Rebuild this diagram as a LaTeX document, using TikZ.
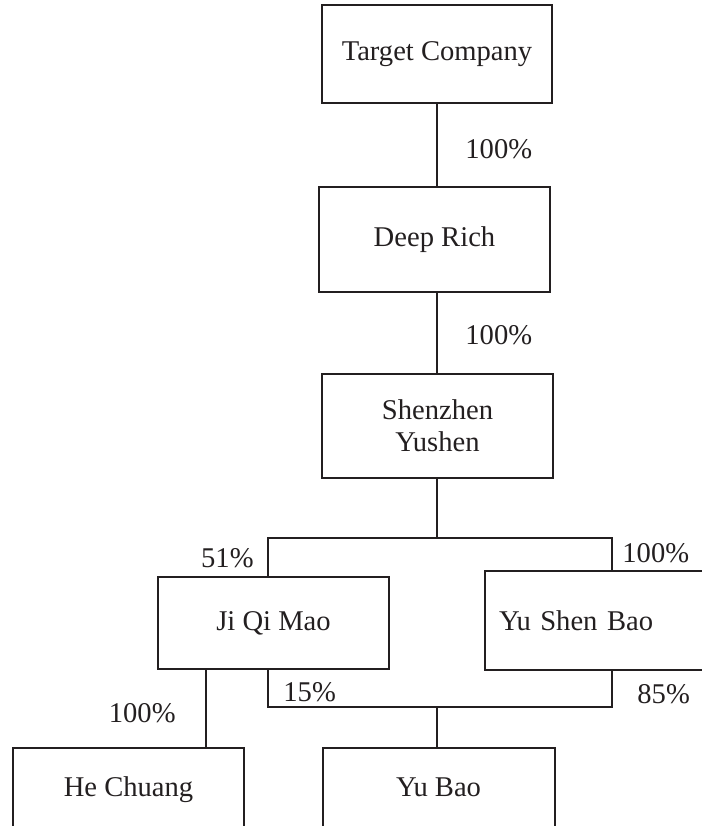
\documentclass[tikz,border=0pt]{standalone}
\usepackage{fontspec}
\setmainfont{Liberation Serif}
\definecolor{ink}{HTML}{231F20}
\begin{document}
\begin{tikzpicture}[x=0.5pt,y=-0.5pt,
  box/.style={draw=ink, line width=1pt, text=ink, font=\fontsize{14.3}{16}\selectfont,
    align=center, inner sep=0pt},
  pct/.style={text=ink, font=\fontsize{14.3}{16}\selectfont, inner sep=0pt},
  conn/.style={draw=ink, line width=1pt}]
\useasboundingbox (0,0) rectangle (702,826);
\begin{scope}
\clip (0,0) rectangle (702,826);
\node[box, minimum width=115pt, minimum height=49pt] (tc) at (437,54) {Target Company};
\node[box, minimum width=115.5pt, minimum height=52.5pt] (dr) at (434.5,239.5) {Deep Rich};
\node[box, minimum width=115.5pt, minimum height=52pt, font=\fontsize{14.3}{16}\selectfont] (sy) at (437.5,426) {Shenzhen\\ Yushen};
\node[box, minimum width=115.5pt, minimum height=46pt] (jqm) at (273.5,623) {Ji Qi Mao};
\node[box, anchor=north west, minimum height=49.5pt, text width=150pt, align=left, inner xsep=7pt] (ysb) at (484,570) {Yu Shen Bao};
\node[box, anchor=north, minimum width=115.5pt, text height=24pt, text depth=30pt] (hc) at (128.5,747) {He Chuang};
\node[box, anchor=north, minimum width=116pt, text height=24pt, text depth=30pt] (yb) at (438.5,747) {Yu Bao};
\end{scope}
\coordinate (mx) at (437,0);
\coordinate (j1) at (437,538);
\coordinate (jl) at (268,538);
\coordinate (jr) at (612,538);
\coordinate (k1) at (206,700);
\coordinate (kl) at (268,707);
\coordinate (kr) at (612,707);
\coordinate (kc) at (437,707);
\draw[conn] (tc.south -| mx) -- (dr.north -| mx);
\draw[conn] (dr.south -| mx) -- (sy.north -| mx);
\draw[conn] (sy.south -| mx) -- (j1);
\draw[conn] (jqm.north -| jl) -- (jl) -- (jr) -- (ysb.north -| jr);
\draw[conn] (jqm.south -| k1) -- (hc.north -| k1);
\draw[conn] (jqm.south -| kl) -- (kl) -- (kr) -- (ysb.south -| kr);
\draw[conn] (kc) -- (yb.north -| kc);
\node[pct, anchor=west] (p1) at (465,149) {100\%};
\node[pct, anchor=west] (p2) at (465,335) {100\%};
\node[pct, anchor=east] (p3) at (254,558) {51\%};
\node[pct, anchor=west] (p4) at (622,553) {100\%};
\node[pct, anchor=west] (p5) at (283,692) {15\%};
\node[pct, anchor=west] (p6) at (637,694) {85\%};
\node[pct, anchor=east] (p7) at (176,713) {100\%};
\end{tikzpicture}
\end{document}
